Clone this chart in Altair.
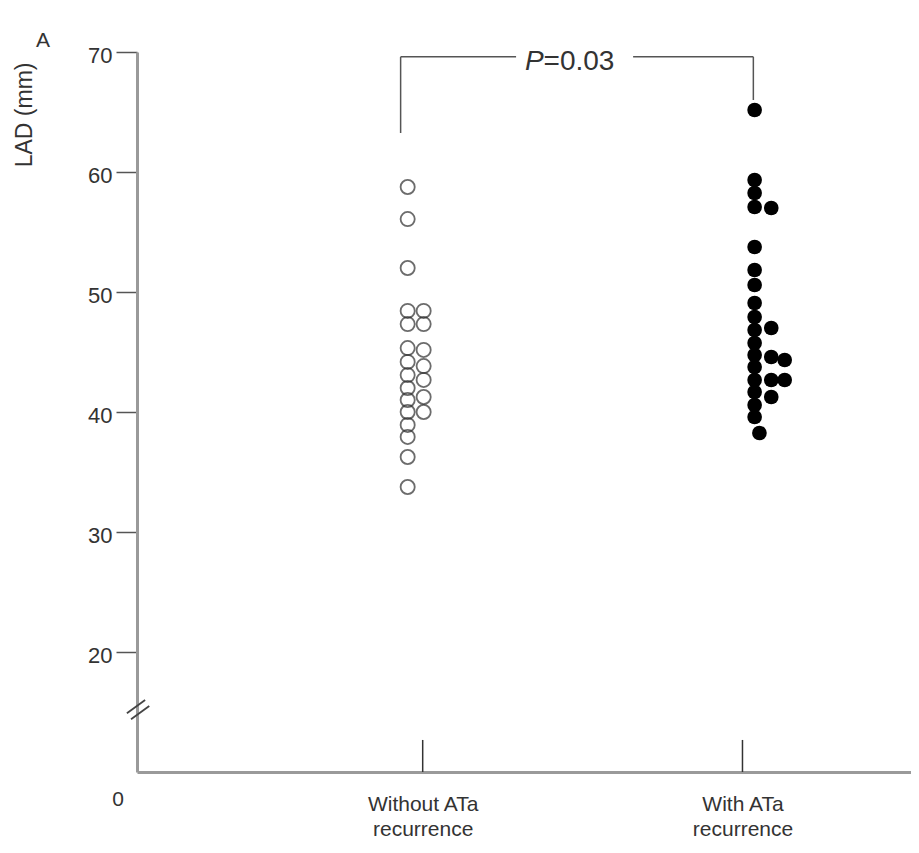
import altair as alt
import pandas as pd

# ---------------- data ----------------
group_names = ["Without ATa recurrence", "With ATa recurrence"]
group_pos = [1, 2]

# LAD values (mm)
without_vals = [58.75, 56.08, 52.0, 48.42, 47.33, 45.33, 44.17, 43.08, 42.0, 41.0,
                40.0, 38.92, 37.92, 36.25, 33.75,
                48.42, 47.33, 45.17, 43.83, 42.67, 41.25, 40.0]
without_cols = [0] * 15 + [1] * 7
without_col_offset = [-0.047, 0.003]

with_vals = [65.17, 59.33, 58.25, 57.08, 53.75, 51.83, 50.58, 49.08, 47.92, 46.83,
             45.75, 44.75, 43.75, 42.67, 41.67, 40.58, 39.58,
             38.25,
             57.0, 47.0, 44.58, 42.67, 41.25,
             44.33, 42.67]
with_cols = [0] * 17 + [1] + [2] * 5 + [3] * 2
with_col_offset = [0.038, 0.053, 0.09, 0.132]

y_ticks = [20, 30, 40, 50, 60, 70]
p_text = ["P", "=0.03"]

# significance bracket (x in category units, y in mm)
bracket_x1 = [0.931, 1.658, 0.931, 2.034]
bracket_x2 = [1.292, 2.034, 0.931, 2.034]
bracket_y1 = [69.6, 69.6, 69.6, 69.6]
bracket_y2 = [69.6, 69.6, 63.25, 66.0]
p_x = 1.378
p_y = 69.6

# axis break marks
break_x1 = [0.075, 0.088]
break_x2 = [0.132, 0.145]
break_y1 = [14.9, 14.4]
break_y2 = [16.0, 15.5]

X_DOMAIN = [0.1066, 2.527]
Y_DOMAIN = [10, 70]
FONT = "Liberation Sans"
TXT = "#333333"

# ---------------- tables ----------------
df_without = pd.DataFrame({
    "x": [group_pos[0] + without_col_offset[c] for c in without_cols],
    "y": without_vals,
})
df_with = pd.DataFrame({
    "x": [group_pos[1] + with_col_offset[c] for c in with_cols],
    "y": with_vals,
})
df_ticks = pd.DataFrame({"x": group_pos, "y": [10, 10], "y2": [12.67, 12.67]})
df_bracket = pd.DataFrame({"x": bracket_x1, "x2": bracket_x2,
                           "y": bracket_y1, "y2": bracket_y2})
df_breaks = pd.DataFrame({"x": break_x1, "x2": break_x2,
                          "y": break_y1, "y2": break_y2})
df_p = pd.DataFrame({"x": [p_x], "y": [p_y], "P": [p_text[0]], "rest": [p_text[1]]})
df_zero = pd.DataFrame({"x": [X_DOMAIN[0]], "y": [Y_DOMAIN[0]], "t": ["0"]})

xs = alt.Scale(domain=X_DOMAIN, nice=False, zero=False)
ys = alt.Scale(domain=Y_DOMAIN, nice=False, zero=False)

x_axis = alt.Axis(
    values=group_pos,
    labelExpr="datum.value == 1 ? ['Without ATa', 'recurrence'] : ['With ATa', 'recurrence']",
    ticks=False, grid=False,
    domainColor="#9a9a9a", domainWidth=3,
    labelFont=FONT, labelFontSize=21, labelColor=TXT,
    labelPadding=21, labelLineHeight=25, labelAlign="center",
    title=None,
)
y_axis = alt.Axis(
    values=y_ticks, grid=False,
    tickSize=21, tickColor="#555555", tickWidth=1.5,
    domainColor="#9a9a9a", domainWidth=3,
    labelFont=FONT, labelFontSize=22, labelColor=TXT, labelPadding=4,
    labelOffset=3,
    title="LAD (mm)", titleFont=FONT, titleFontSize=23, titleFontWeight="normal",
    titleColor=TXT, titleX=-113, titleY=10, titleAngle=-90,
    titleAlign="right", titleBaseline="middle",
)

X = alt.X("x:Q", scale=xs, axis=x_axis)
Y = alt.Y("y:Q", scale=ys, axis=y_axis)

open_pts = alt.Chart(df_without).mark_point(
    shape="circle", filled=False, size=200, stroke="#2e2e2e", strokeWidth=1.8
).encode(x=X, y=Y)

filled_pts = alt.Chart(df_with).mark_circle(size=215, color="#000000", opacity=1).encode(
    x=X, y=Y)

ticks = alt.Chart(df_ticks).mark_rule(color="#333333", strokeWidth=1.5).encode(
    x=X, y=Y, y2="y2:Q")

bracket = alt.Chart(df_bracket).mark_rule(color="#555555", strokeWidth=1.5, clip=False).encode(
    x=X, x2="x2:Q", y=Y, y2="y2:Q")

breaks = alt.Chart(df_breaks).mark_rule(color="#444444", strokeWidth=1.8, clip=False).encode(
    x=X, x2="x2:Q", y=Y, y2="y2:Q")

p_italic = alt.Chart(df_p).mark_text(
    font=FONT, fontSize=28, fontStyle="italic", color=TXT,
    align="right", baseline="middle", dy=5, clip=False
).encode(x=X, y=Y, text="P:N")

p_rest = alt.Chart(df_p).mark_text(
    font=FONT, fontSize=28, color=TXT,
    align="left", baseline="middle", dy=5, clip=False
).encode(x=X, y=Y, text="rest:N")

zero = alt.Chart(df_zero).mark_text(
    font=FONT, fontSize=21, color=TXT, align="center", baseline="middle",
    dx=-19, dy=28, clip=False
).encode(x=X, y=Y, text="t:N")

chart = alt.layer(
    open_pts, filled_pts, ticks, bracket, breaks, p_italic, p_rest, zero
).properties(
    width=774, height=720,
    autosize=alt.AutoSizeParams(type="none"),
    padding={"left": 129, "top": 44, "right": 0, "bottom": 70},
    background="white",
    title=alt.TitleParams(
        text="A", anchor="start", frame="group", fontSize=21, fontWeight="normal",
        font=FONT, color=TXT, dx=-101, dy=30, offset=2, baseline="bottom",
    ),
).configure_view(stroke=None)

chart.save("out.html", embed_options={"renderer": "svg", "actions": False})
